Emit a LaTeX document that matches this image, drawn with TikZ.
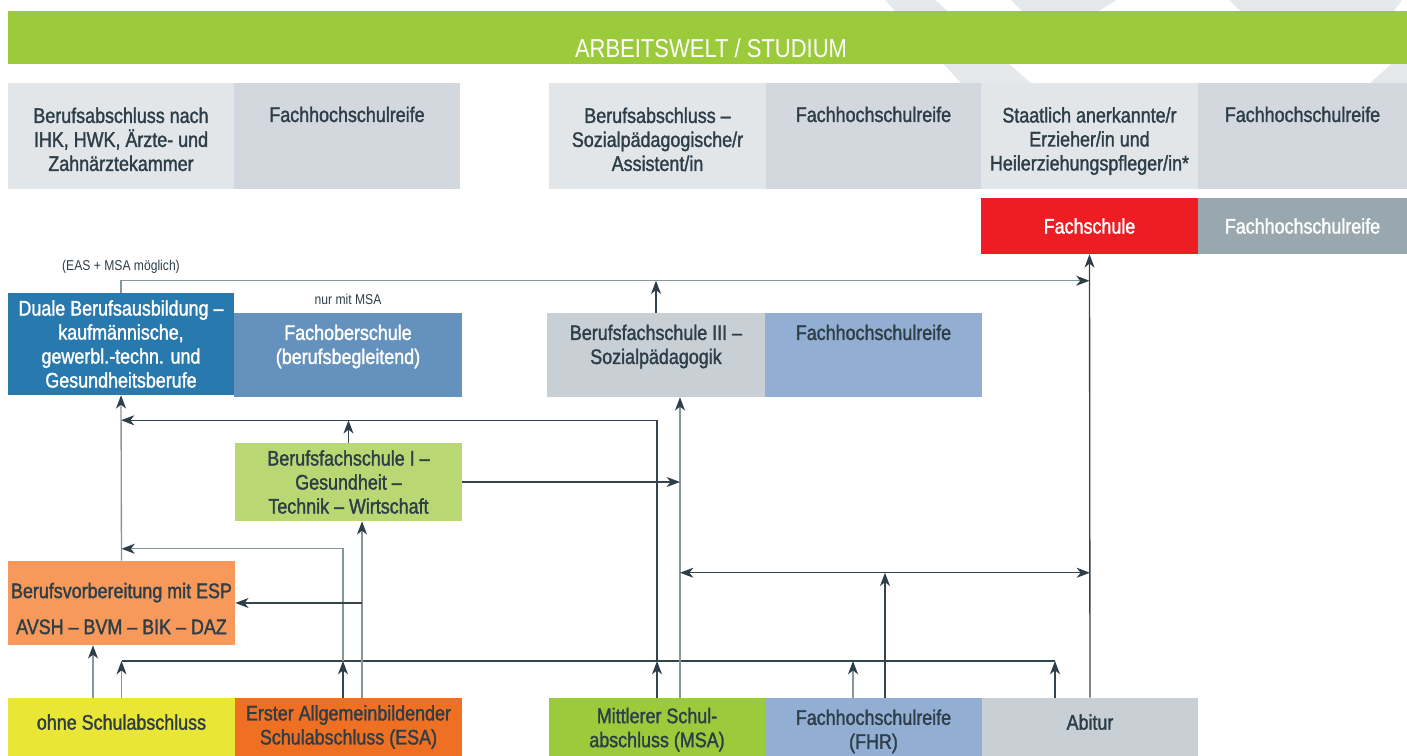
\documentclass[tikz,border=0pt]{standalone}
\usepackage{fontspec}
\setmainfont{Liberation Sans}[FakeStretch=0.85]
\newfontfamily\boxfont{Liberation Sans}[FakeStretch=0.85,FakeBold=1.5]
\usetikzlibrary{arrows.meta,calc}

\definecolor{txtdark}{RGB}{45,62,72}
\definecolor{linedark}{RGB}{52,68,77}
\definecolor{linegrey}{RGB}{135,149,156}
\definecolor{wmgrey}{RGB}{230,233,236}
\definecolor{hdrgreen}{RGB}{155,203,59}
\definecolor{greyl}{RGB}{226,230,233}
\definecolor{greym}{RGB}{211,216,223}
\definecolor{fsred}{RGB}{238,29,35}
\definecolor{fhrgrey}{RGB}{153,168,175}
\definecolor{dualblue}{RGB}{40,121,173}
\definecolor{fosblue}{RGB}{101,146,189}
\definecolor{bfsgrey}{RGB}{200,208,214}
\definecolor{fhrblue}{RGB}{146,175,211}
\definecolor{bfsgreen}{RGB}{185,216,116}
\definecolor{bvorange}{RGB}{247,153,90}
\definecolor{ohneyellow}{RGB}{234,230,54}
\definecolor{esaorange}{RGB}{240,112,35}

\begin{document}
\begin{tikzpicture}[x=0.75pt,y=0.75pt,yscale=-1,xscale=1,
  box/.style={rectangle, inner sep=0pt, align=center, text=txtdark, font=\boxfont\fontsize{15.8}{18}\selectfont},
  wh/.style 2 args={minimum width=#1*0.75pt, minimum height=#2*0.75pt},
  small/.style={inner sep=0.75pt, text=txtdark, font=\fontsize{10.7}{12}\selectfont},
  conn/.style={draw=linedark, line width=1pt, -{Stealth[length=10pt,width=7.5pt,inset=3pt,color=txtdark]}},
  connl/.style={conn, draw=linegrey},
  bus/.style={draw=linedark, line width=1pt}]
\useasboundingbox (0,0) rectangle (1407,756);

%Watermark shapes behind the header
\fill [wmgrey] (885,0) -- (935,0) -- (1031,83) -- (961,83) -- cycle ;
\fill [wmgrey] (1011,0) -- (1117,0) -- (1050,40) -- cycle ;
\fill [wmgrey] (1229,0) -- (1402,0) -- (1380,30) -- (1260,30) -- cycle ;
\fill [wmgrey] (1407,50) -- (1407,83) -- (1370,83) -- cycle ;

% Header
\node (hdr) at (707.5,37.5) [rectangle, inner sep=0pt, fill=hdrgreen, wh={1399}{53}] {};
\node (hdrtxt) at (711,48) [text=white, inner sep=0pt, font=\fontsize{19.4}{22}\selectfont] {ARBEITSWELT / STUDIUM};

% Text Node -- first row
\node (absIHK) at (121,136) [box, wh={226}{106}, fill=greyl] {\mbox{}\\[-1.5pt]Berufsabschluss nach\\IHK, HWK, Ärzte- und\\Zahnärztekammer};
\node (fhrIHK) at (347,136) [box, wh={226}{106}, fill=greym] {Fachhochschulreife\\[14.5pt]\mbox{}};
\node (absSozAss) at (657.5,136) [box, wh={217}{106}, fill=greyl] {\mbox{}\\[-1.5pt]Berufsabschluss –\\Sozialpädagogische/r\\Assistent/in};
\node (fhrSozAss) at (873.5,136) [box, wh={215}{106}, fill=greym] {Fachhochschulreife\\[14.5pt]\mbox{}};
\node (absErz) at (1089.5,136) [box, wh={217}{106}, fill=greyl] {\mbox{}\\[1pt]Staatlich anerkannte/r\\Erzieher/in und\\Heilerziehungspfleger/in*};
\node (fhrErz) at (1302.5,136) [box, wh={209}{106}, fill=greym] {Fachhochschulreife\\[14.5pt]\mbox{}};

% Text Node -- Fachschule
\node (fachschule) at (1089.5,226) [box, wh={217}{56}, fill=fsred, text=white] {Fachschule};
\node (fhrFS) at (1302.5,226) [box, wh={209}{56}, fill=fhrgrey, text=white] {Fachhochschulreife};

% Text Node -- middle row
\node (duale) at (121,344) [box, wh={226}{102}, fill=dualblue, text=white] {Duale Berufsausbildung –\\kaufmännische,\\gewerbl.-techn. und\\Gesundheitsberufe};
\node (fos) at (348,355) [box, wh={228}{84}, fill=fosblue, text=white] {Fachoberschule\\(berufsbegleitend)\\[-2pt]\mbox{}};
\node (bfs3) at (656,355) [box, wh={218}{84}, fill=bfsgrey] {Berufsfachschule III –\\Sozialpädagogik\\[-2pt]\mbox{}};
\node (fhrBFS) at (873.5,355) [box, wh={217}{84}, fill=fhrblue] {Fachhochschulreife\\[16pt]\mbox{}};
\node (bfs1) at (348.5,482) [box, wh={227}{78}, fill=bfsgreen] {Berufsfachschule I –\\Gesundheit –\\Technik – Wirtschaft};
\node (bv) at (121.5,603) [box, wh={227}{84}, fill=bvorange] {\mbox{}\\[1.8pt]Berufsvorbereitung mit ESP\\[9pt]AVSH – BVM – BIK – DAZ};

% Text Node -- school leaving certificates
\node (ohne) at (121.5,727) [box, wh={227}{58}, fill=ohneyellow] {ohne Schulabschluss\\[-10.5pt]\mbox{}};
\node (esa) at (348.5,727) [box, wh={227}{58}, fill=esaorange] {Erster Allgemeinbildender\\Schulabschluss (ESA)};
\node (msa) at (657,727) [box, wh={216}{58}, fill=hdrgreen] {\mbox{}\\[-2.5pt]Mittlerer Schul-\\abschluss (MSA)};
\node (fhr) at (873.5,727) [box, wh={217}{58}, fill=fhrblue] {\mbox{}\\Fachhochschulreife\\(FHR)};
\node (abi) at (1090,727) [box, wh={216}{58}, fill=bfsgrey] {Abitur\\[-10.5pt]\mbox{}};

% Text Node -- remarks
\node (easmsa) at (121,267) [small] {(EAS + MSA möglich)};
\node (nurmsa) at (348,299) [small] {nur mit MSA};

% junctions
\coordinate (busL) at (122,661);
\coordinate (busR) at (1055,661);
\coordinate (topline) at ($(duale.north)+(0,-12)$);
\coordinate (m680) at ($(msa.north)+(23,0)$);
\coordinate (dblL) at ($(m680)+(0,-125)$);

%Straight Lines -- collecting line
\draw [bus] (busL) -- (busR) ;
\draw [connl] (ohne.north) -- (ohne.north |- busL) ;
\draw [connl] ($(ohne.north)+(-28.5,0)$) -- ($(bv.south)+(-28.5,0)$) ;
\draw [conn] ($(esa.north)+(-5.5,0)$) -- ($(esa.north |- busL)+(-5.5,0)$) ;
\draw [conn] (msa.north) -- (msa.north |- busL) ;
\draw [connl] ($(fhr.north)+(-20.5,0)$) -- ($(fhr.north |- busL)+(-20.5,0)$) ;
\draw [conn] ($(abi.north)+(-35,0)$) -- (busR) ;

%Straight Lines -- towards Duale Berufsausbildung
\draw [connl] (bv.north) -- (duale.south) ;
\draw [connl] ($(esa.north |- busL)+(-5.5,0)$) |- ($(bv.north)+(0,-12)$) ;
\draw [conn] (msa.north |- busL) |- ($(duale.south)+(0,25)$) ;
\draw [conn] (bfs1.north) -- (bfs1.north |- {$(duale.south)+(0,25)$}) ;

%Straight Lines -- ESA
\draw [connl] ($(esa.north)+(13.5,0)$) -- ($(bfs1.south)+(13.5,0)$) ;
\draw [conn] ($(bv.east)+(127,0)$) -- (bv.east) ;

%Straight Lines -- MSA
\draw [connl] (m680) -- ($(bfs3.south)+(24,0)$) ;
\draw [conn] (bfs1.east) -- (bfs1.east -| m680) ;
\draw [conn, {Stealth[length=10pt,width=7.5pt,inset=3pt,color=txtdark]}-{Stealth[length=10pt,width=7.5pt,inset=3pt,color=txtdark]}] (dblL) -- (abi.north |- dblL) ;
\draw [conn] ($(fhr.north)+(11.5,0)$) -- ($(fhr.north |- dblL)+(11.5,0)$) ;

%Straight Lines -- top line
\draw [connl] (duale.north) |- (fachschule.south |- topline) ;
\draw [conn] (bfs3.north) -- (bfs3.north |- topline) ;
\draw [conn] (abi.north) -- (fachschule.south) ;

\end{tikzpicture}
\end{document}
